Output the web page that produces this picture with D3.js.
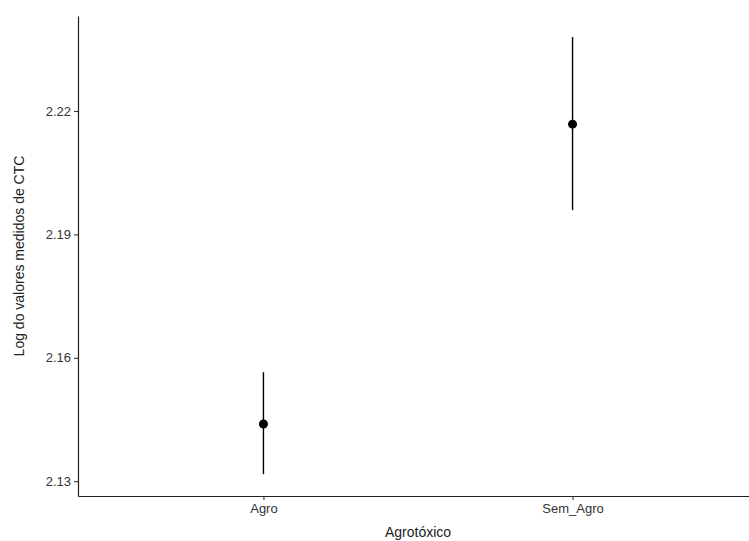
<!DOCTYPE html>
<html>
<head>
<meta charset="utf-8">
<script src="https://cdnjs.cloudflare.com/ajax/libs/d3/7.8.5/d3.min.js"></script>
<style>
  body { margin: 0; background: #fff; }
  text { font-family: "Liberation Sans", Arial, sans-serif; }
</style>
</head>
<body>
<div id="chart"></div>
<script>
const categories = ["Agro", "Sem_Agro"];
const means = [2.1439, 2.2168];
const lower = [2.1317, 2.1959];
const upper = [2.1565, 2.2380];
const yTicks = [2.13, 2.16, 2.19, 2.22];

const width = 749, height = 541;
const margin = {left: 78, top: 16, bottom: 45};

const svg = d3.select("#chart")
  .append("svg")
  .attr("width", width)
  .attr("height", height);

// discrete x scale with ggplot-style 0.6 expansion
const x = d3.scaleLinear()
  .domain([0.4, categories.length + 0.6])
  .range([margin.left, 758]);

const y = d3.scaleLinear()
  .domain([2.1264, 2.2431])
  .range([height - margin.bottom, margin.top]);

svg.append("g")
  .attr("transform", `translate(${margin.left},0)`)
  .call(d3.axisLeft(y).tickValues(yTicks).tickFormat(d3.format(".2f")).tickSize(4).tickSizeOuter(0).tickPadding(3))
  .attr("font-size", 13)
  .attr("font-family", "Liberation Sans, Arial, sans-serif");

svg.append("g")
  .attr("transform", `translate(0,${height - margin.bottom})`)
  .call(d3.axisBottom(x).tickValues([1, 2]).tickFormat((d, i) => categories[i]).tickSize(4).tickSizeOuter(0).tickPadding(4))
  .attr("font-size", 13)
  .attr("font-family", "Liberation Sans, Arial, sans-serif");

svg.selectAll(".domain").attr("stroke", "#222").attr("stroke-width", 1.2);
svg.selectAll(".tick line").attr("stroke", "#333").attr("stroke-width", 1.1);
svg.selectAll(".tick text").attr("fill", "#333");

// error bars
svg.append("g")
  .selectAll("line")
  .data(categories)
  .join("line")
  .attr("x1", (d, i) => x(i + 1))
  .attr("x2", (d, i) => x(i + 1))
  .attr("y1", (d, i) => y(lower[i]))
  .attr("y2", (d, i) => y(upper[i]))
  .attr("stroke", "#000")
  .attr("stroke-width", 1.4);

svg.append("g")
  .selectAll("circle")
  .data(categories)
  .join("circle")
  .attr("cx", (d, i) => x(i + 1))
  .attr("cy", (d, i) => y(means[i]))
  .attr("r", 4.5)
  .attr("fill", "#000");

svg.append("text")
  .attr("x", 418)
  .attr("y", 537)
  .attr("text-anchor", "middle")
  .style("font-size", "14px")
  .attr("fill", "#222")
  .text("Agrotóxico");

svg.append("text")
  .attr("transform", `translate(24,${(margin.top + height - margin.bottom) / 2}) rotate(-90)`)
  .attr("text-anchor", "middle")
  .style("font-size", "14px")
  .attr("fill", "#222")
  .text("Log do valores medidos de CTC");
</script>
</body>
</html>
